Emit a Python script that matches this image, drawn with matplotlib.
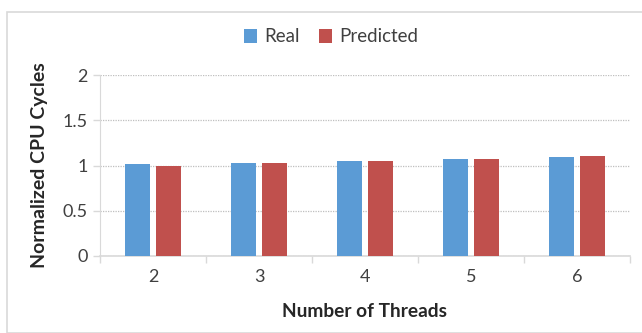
import numpy as np
import matplotlib.pyplot as plt
from matplotlib.patches import Rectangle

threads = ['2', '3', '4', '5', '6']
real = [1.015, 1.025, 1.05, 1.075, 1.095]
predicted = [1.0, 1.025, 1.05, 1.075, 1.10]

plt.rcParams['font.family'] = ['Lato', 'DejaVu Sans']

fig = plt.figure(figsize=(6.42, 3.33), dpi=100)
ax = fig.add_axes([100 / 642, 1 - 256 / 333, 530 / 642, 181 / 333])

x = np.arange(len(threads))
w = 0.23
ax.bar(x - 0.145, real, w, color='#5B9BD5', label='Real', zorder=3)
ax.bar(x + 0.145, predicted, w, color='#C0504D', label='Predicted', zorder=3)

ax.set_xlim(-0.5, len(threads) - 0.5)
ax.set_ylim(0, 2)
ax.set_yticks([0, 0.5, 1, 1.5, 2])
ax.set_yticklabels(['0', '0.5', '1', '1.5', '2'])
ax.set_xticks(x)
ax.set_xticklabels(threads)
ax.set_xticks(np.arange(-0.5, len(threads)), minor=True)
ax.tick_params(axis='x', which='major', length=0, pad=9, labelsize=13, colors='#404040')
ax.tick_params(axis='x', which='minor', length=5, width=1, color='#D9D9D9')
ax.tick_params(axis='y', length=5, width=1, color='#D9D9D9', pad=4, labelsize=13,
               labelcolor='#404040')

ax.grid(axis='y', linestyle=(0, (1, 1)), color='#BFBFBF', linewidth=0.9, zorder=0)
for s in ['top', 'right']:
    ax.spines[s].set_visible(False)
ax.spines['left'].set_color('#D9D9D9')
ax.spines['bottom'].set_color('#D9D9D9')
ax.spines['bottom'].set_linewidth(1.2)

ax.set_xlabel('Number of Threads', fontsize=13.8, fontweight='bold', color='#262626', labelpad=13)
ax.set_ylabel('Normalized CPU Cycles', fontsize=14, fontweight='bold', color='#262626', labelpad=10)

fig.legend(loc='center', bbox_to_anchor=(331 / 642, 1 - 37 / 333), ncol=2, frameon=False,
           fontsize=13.5, handlelength=0.7, handleheight=0.7, handletextpad=0.4,
           columnspacing=1.0, labelcolor='#404040')

fig.patches.append(Rectangle((7 / 642, 0), 1, 1 - 12 / 333, transform=fig.transFigure,
                             fill=False, edgecolor='#D9D9D9', linewidth=1.2))

fig.savefig('out.png', dpi=100)
